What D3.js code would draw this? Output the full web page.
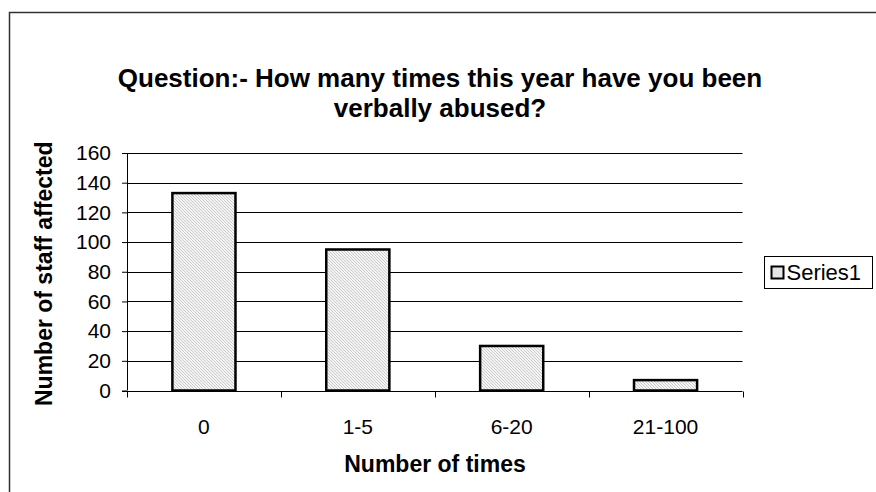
<!DOCTYPE html>
<html>
<head>
<meta charset="utf-8">
<script src="https://cdn.jsdelivr.net/npm/d3@7"></script>
<style>
  body { margin: 0; background: #fff; }
  svg { display: block; font-family: "Liberation Sans", Arial, sans-serif; }
</style>
</head>
<body>
<div id="chart"></div>
<script>
// data
const categories = ["0", "1-5", "6-20", "21-100"];
const series1 = [133, 95, 30, 7];
const yTicks = [0, 20, 40, 60, 80, 100, 120, 140, 160];
const seriesName = "Series1";

const width = 876, height = 492;
const plot = {left: 127, right: 742.5, top: 153, bottom: 390.5};

const svg = d3.select("#chart").append("svg")
    .attr("width", width)
    .attr("height", height);

// hatch fill like the old excel pattern
const defs = svg.append("defs");
const pat = defs.append("pattern")
    .attr("id", "hatch")
    .attr("patternUnits", "userSpaceOnUse")
    .attr("width", 3)
    .attr("height", 3);
pat.append("rect").attr("width", 3).attr("height", 3).attr("fill", "#f4f4f4");
pat.append("path")
    .attr("d", "M0,0 L3,3 M-1,2 L1,4 M2,-1 L4,1")
    .attr("stroke", "#c6c6c6")
    .attr("stroke-width", 0.9);

// outer chart frame (only top and left edges show)
svg.append("path")
    .attr("d", `M9.5,${height} V12.5 H${width}`)
    .attr("fill", "none")
    .attr("stroke", "#333")
    .attr("stroke-width", 1.5);

const x = d3.scaleBand()
    .domain(categories)
    .range([plot.left, plot.right])
    .paddingInner(0.59)
    .paddingOuter(0.295);

const xTick = d3.scaleBand()
    .domain(categories)
    .range([plot.left, plot.right]);

const y = d3.scaleLinear()
    .domain([0, 160])
    .range([plot.bottom, plot.top]);

// gridlines
svg.append("g")
    .selectAll("line")
    .data(yTicks.filter(d => d > 0))
    .join("line")
    .attr("x1", plot.left)
    .attr("x2", plot.right)
    .attr("y1", d => Math.round(y(d)) + 0.5)
    .attr("y2", d => Math.round(y(d)) + 0.5)
    .attr("stroke", "#000")
    .attr("stroke-width", 1);

// bars
svg.append("g")
    .selectAll("rect")
    .data(series1)
    .join("rect")
    .attr("x", (d, i) => x(categories[i]))
    .attr("y", d => y(d))
    .attr("width", x.bandwidth())
    .attr("height", d => y(0) - y(d))
    .attr("fill", "url(#hatch)")
    .attr("stroke", "#000")
    .attr("stroke-width", 2.5);

// y axis
svg.append("g")
    .attr("transform", `translate(${plot.left},0)`)
    .call(d3.axisLeft(y).tickValues(yTicks).tickSize(5).tickPadding(11))
    .call(g => g.select(".domain").attr("d", `M0.5,${plot.top}V${plot.bottom}`))
    .call(g => g.selectAll(".tick line").attr("stroke", "#000"))
    .call(g => g.selectAll(".tick text")
        .attr("font-size", 21)
        .attr("font-family", "Liberation Sans, Arial, sans-serif")
        .attr("fill", "#000"));

// x axis, ticks sit between the categories
const xAxis = svg.append("g")
    .attr("transform", `translate(0,${Math.round(plot.bottom) + 0.5})`);
xAxis.append("line")
    .attr("x1", plot.left - 5)
    .attr("x2", plot.right)
    .attr("stroke", "#000");
xAxis.selectAll(".sep")
    .data(categories.concat([null]))
    .join("line")
    .attr("class", "sep")
    .attr("x1", (d, i) => Math.round(plot.left + i * xTick.step()) + 0.5)
    .attr("x2", (d, i) => Math.round(plot.left + i * xTick.step()) + 0.5)
    .attr("y1", 0)
    .attr("y2", 6)
    .attr("stroke", "#000");
xAxis.selectAll("text")
    .data(categories)
    .join("text")
    .attr("x", d => xTick(d) + xTick.bandwidth() / 2)
    .attr("y", 42)
    .attr("text-anchor", "middle")
    .attr("font-size", 21)
    .text(d => d);

// titles
const title = svg.append("text")
    .attr("text-anchor", "middle")
    .attr("font-weight", "bold")
    .attr("font-size", 26)
    .attr("fill", "#000");
title.append("tspan").attr("x", 440).attr("y", 87).text("Question:- How many times this year have you been");
title.append("tspan").attr("x", 440).attr("y", 117).text("verbally abused?");

svg.append("text")
    .attr("x", 435)
    .attr("y", 472)
    .attr("text-anchor", "middle")
    .attr("font-weight", "bold")
    .attr("font-size", 23)
    .text("Number of times");

svg.append("text")
    .attr("transform", `translate(52,${(plot.top + plot.bottom) / 2 + 2}) rotate(-90)`)
    .attr("text-anchor", "middle")
    .attr("font-weight", "bold")
    .attr("font-size", 23)
    .text("Number of staff affected");

// legend
const legend = svg.append("g").attr("transform", "translate(764.5,256.5)");
legend.append("rect")
    .attr("width", 108)
    .attr("height", 32)
    .attr("fill", "#fff")
    .attr("stroke", "#000");
legend.append("rect")
    .attr("x", 7)
    .attr("y", 10)
    .attr("width", 12)
    .attr("height", 12)
    .attr("fill", "url(#hatch)")
    .attr("stroke", "#000")
    .attr("stroke-width", 2);
legend.append("text")
    .attr("x", 22)
    .attr("y", 23.5)
    .attr("font-size", 22)
    .text(seriesName);
</script>
</body>
</html>
